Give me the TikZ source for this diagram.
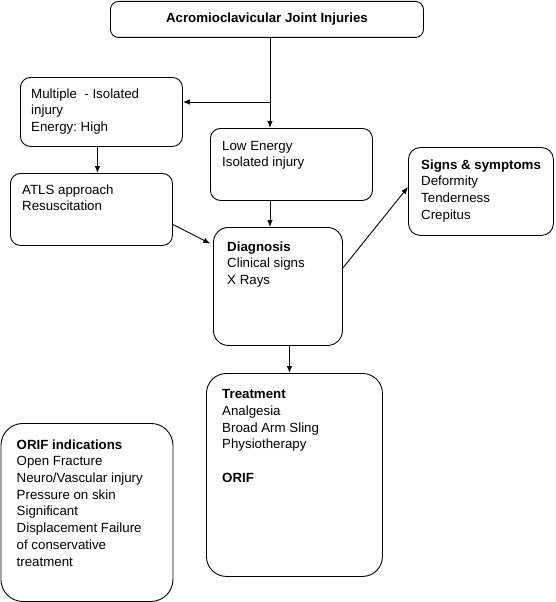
\documentclass[tikz,border=0pt]{standalone}
\usepackage{fontspec}
\setmainfont{Liberation Sans}
\usetikzlibrary{arrows.meta}
\frenchspacing

\begin{document}
\begin{tikzpicture}[x=1pt,y=-1pt,
	font=\fontsize{13.3}{16.7}\selectfont,
	box/.style={draw, line width=0.9pt, inner sep=0pt, anchor=north west},
	txt/.style={inner sep=0pt, anchor=north west, align=left},
	arr/.style={line width=0.9pt, -{Latex[length=7pt,width=5.5pt]}}]
	\useasboundingbox (0,0) rectangle (555,602);

	%boxes
	\node[box, rounded corners=8pt, minimum width=313, minimum height=36, anchor=north west] (title) at (110,1) {\textbf{Acromioclavicular Joint Injuries}};
	\node[box, rounded corners=10pt, minimum width=162, minimum height=69] (multi) at (20,77) {};
	\node[box, rounded corners=10pt, minimum width=162, minimum height=72] (low) at (210,128) {};
	\node[box, rounded corners=10pt, minimum width=162, minimum height=72] (atls) at (10,173) {};
	\node[box, rounded corners=15pt, minimum width=129, minimum height=118] (diag) at (213,227) {};
	\node[box, rounded corners=12pt, minimum width=145, minimum height=88] (signs) at (408,147) {};
	\node[box, rounded corners=20pt, minimum width=176, minimum height=203] (treat) at (206,373) {};
	\node[box, rounded corners=22pt, minimum width=172, minimum height=178] (orif) at (0.5,423) {};

	%texts
	\node[txt] (multitxt) at ([shift={(11,11.3)}]multi.north west) {Multiple~~- Isolated\\injury\\Energy: High};
	\node[txt] (lowtxt) at ([shift={(12,12.8)}]low.north west) {Low Energy\\Isolated injury};
	\node[txt] (atlstxt) at ([shift={(12,11.3)}]atls.north west) {ATLS approach\\Resuscitation};
	\node[txt] (diagtxt) at ([shift={(14,14.3)}]diag.north west) {\textbf{Diagnosis}\\Clinical signs\\X Rays};
	\node[txt] (signstxt) at ([shift={(13,12.3)}]signs.north west) {\textbf{Signs \& symptoms}\\Deformity\\Tenderness\\Crepitus};
	\node[txt] (treattxt) at ([shift={(16,16.3)}]treat.north west) {\textbf{Treatment}\\Analgesia\\Broad Arm Sling\\Physiotherapy\\[16.7pt]\textbf{ORIF}};
	\node[txt] (oriftxt) at ([shift={(16,16.3)}]orif.north west) {\textbf{ORIF indications}\\Open Fracture\\Neuro/Vascular injury\\Pressure on skin\\Significant\\Displacement Failure\\of conservative\\treatment};

	%connections
	\coordinate (fork) at (270,102);
	\draw[line width=0.9pt] (title.south -| fork) -- (fork);
	\draw[arr] (fork) -- (fork |- low.north);
	\draw[arr] (fork) -- (fork -| multi.east);
	\draw[arr] ([xshift=-4]multi.south) -- ([xshift=-4]multi.south |- atls.north);
	\draw[arr] (fork |- low.south) -- (fork |- diag.north);
	\draw[arr, shorten >=3pt] ([yshift=-15]atls.east) -- ([yshift=-18]diag.north west);
	\draw[arr] ([yshift=-41]diag.north east) -- ([yshift=-40]signs.north west);
	\draw[arr] ([xshift=11.5]diag.south) -- ([xshift=11.5]diag.south |- treat.north);

\end{tikzpicture}
\end{document}
